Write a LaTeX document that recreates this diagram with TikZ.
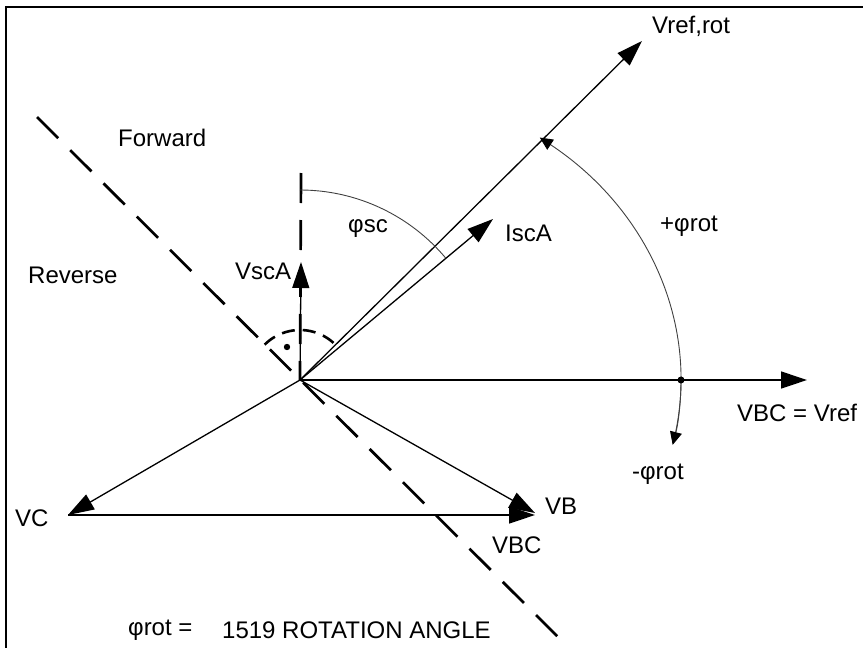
\documentclass[tikz,border=0pt]{standalone}
\usepackage{fontspec}
\setmainfont{Liberation Sans}
\usetikzlibrary{arrows.meta}
\begin{document}
\begin{tikzpicture}[x=1pt,y=1pt,
  lbl/.style={inner sep=0pt,font=\fontsize{24}{28}\selectfont},
  vec/.style={line width=1.3pt,-{Triangle[length=26pt,width=17pt]}},
  thinarc/.style={line width=0.9pt,draw=black!75},
  dashline/.style={line width=2.7pt,dash pattern=on 30pt off 17pt},
  smallhead/.style={-{Triangle[length=13pt,width=12pt,color=black]}}]
\useasboundingbox (0,0) rectangle (863,-648);
% frame
\draw[line width=2.5pt] (863,-7) -- (6,-7) -- (6,-648);
% points
\coordinate (O) at (300,-380);
\coordinate (Vr) at (642,-41);
\coordinate (Is) at (493,-219);
\coordinate (Vs) at (301,-262);
\coordinate (Vbc) at (807,-380);
\coordinate (Vc) at (68,-515);
\coordinate (Vb) at (535,-513);
\coordinate (Vbch) at (535,-515);
\coordinate (D1) at (37,-117);
\coordinate (D2) at (561,-640);
\coordinate (Vtop) at (301,-173);
% dashed lines
\draw[dashline] (D1) -- (D2);
\draw[dashline] (Vtop) -- (O);
% right angle marker
\draw[line width=2.6pt,dash pattern=on 13pt off 8pt] ([shift={(135:50)}]O) arc[start angle=135,end angle=40,radius=50];
\fill (287,-347) circle (3.2pt);
% vectors
\draw[vec] (O) -- (Vr);
\draw[vec] (O) -- (Is);
\draw[vec] (O) -- (Vs);
\draw[vec] (O) -- (Vbc);
\draw[vec] (O) -- (Vc);
\draw[vec] (O) -- (Vb);
\draw[vec] (Vc) -- (Vbch);
% arcs
\draw[thinarc] ([shift={(90:190)}]O) arc[start angle=90,end angle=40,radius=190];
\draw[thinarc,smallhead] (O) ++(-11:381 and 312) arc[start angle=-11,end angle=51,x radius=381,y radius=312];
\draw[thinarc,smallhead] (O) ++(0:381 and 312) arc[start angle=0,end angle=-12,x radius=381,y radius=312];
\fill (681,-380) circle (3.5pt);
% labels
\node[lbl,anchor=west] (lVr) at (652,-26) {Vref,rot};
\node[lbl,anchor=west] (lIs) at (505,-233) {IscA};
\node[lbl,anchor=west] (lVs) at (235,-271) {VscA};
\node[lbl,anchor=west] (lFw) at (118,-138) {Forward};
\node[lbl,anchor=west] (lRv) at (28,-275) {Reverse};
\node[lbl,anchor=west] (lVbc) at (737,-413) {VBC = Vref};
\node[lbl,anchor=west] (lVc) at (15,-518) {VC};
\node[lbl,anchor=west] (lVb) at (545,-506) {VB};
\node[lbl,anchor=west] (lVBC) at (492,-545) {VBC};
\node[lbl,anchor=west] (lpr) at (660,-226) {+φrot};
\node[lbl,anchor=west] (lmr) at (632,-474) {-φrot};
\node[lbl,anchor=west] (lsc) at (348,-229) {φsc};
\node[lbl,anchor=west] (lrot) at (128,-630) {φrot =};
\node[lbl,anchor=west] (lang) at (222,-630) {1519 ROTATION ANGLE};
\end{tikzpicture}
\end{document}
